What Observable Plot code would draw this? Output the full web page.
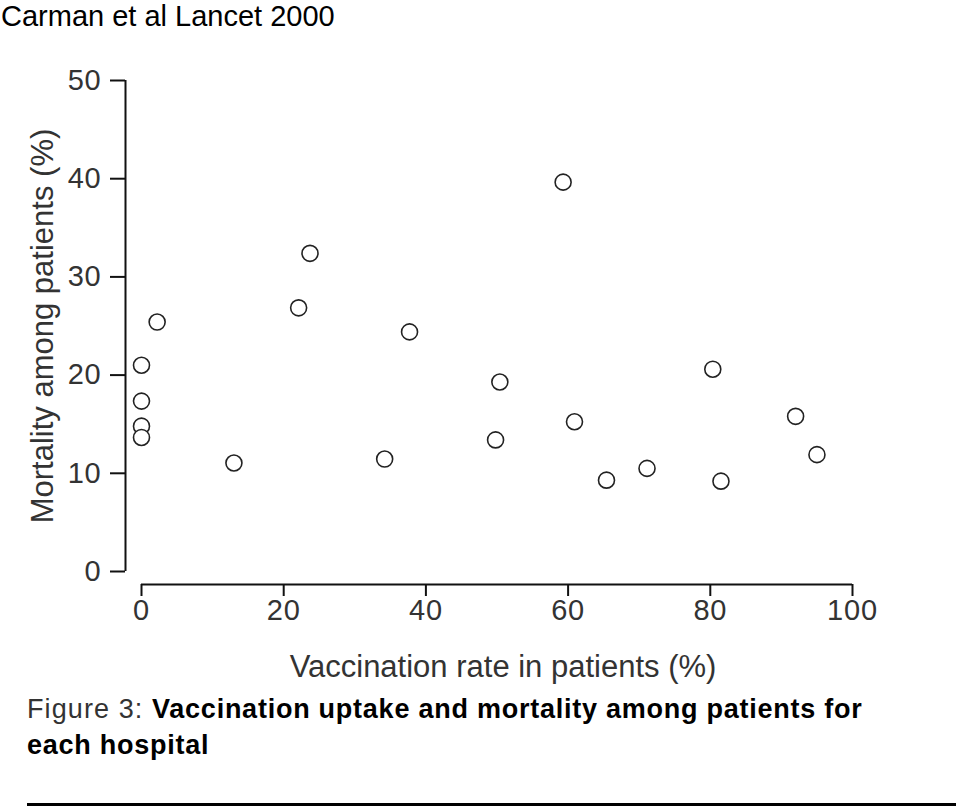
<!DOCTYPE html>
<html>
<head>
<meta charset="utf-8">
<script src="https://cdn.jsdelivr.net/npm/d3@7"></script>
<script src="https://cdn.jsdelivr.net/npm/@observablehq/plot@0.6"></script>
<style>
  html, body { margin: 0; padding: 0; background: #fff; }
  body { width: 960px; height: 808px; position: relative; overflow: hidden; font-family: "Liberation Sans", Arial, sans-serif; }
  #title { position: absolute; left: 1px; top: 2px; font-size: 29px; line-height: 29px; color: #000; white-space: nowrap; }
  #chart { position: absolute; left: 0; top: 0; }
  #caption { position: absolute; left: 27px; top: 691px; font-size: 27px; line-height: 36px; white-space: nowrap; }
  #caption .fig { color: #333; letter-spacing: 1.1px; }
  #caption b { color: #000; letter-spacing: 0.75px; }
  #rule { position: absolute; left: 27px; top: 803px; width: 929px; height: 3px; background: #000; }
</style>
</head>
<body>
<div id="chart"></div>
<div id="title">Carman et al Lancet 2000</div>
<div id="caption"><span class="fig">Figure 3: </span><b>Vaccination uptake and mortality among patients for<br>each hospital</b></div>
<div id="rule"></div>
<script>
// Data
const vaccination = [0, 0, 0, 0, 2.2, 13.0, 22.1, 23.7, 34.2, 37.7, 49.8, 50.4, 59.3, 60.9, 65.4, 71.1, 80.35, 81.5, 92.0, 95.0];
const mortality   = [21.0, 17.35, 14.8, 13.65, 25.4, 11.05, 26.85, 32.4, 11.45, 24.4, 13.4, 19.3, 39.65, 15.25, 9.3, 10.5, 20.6, 9.2, 15.8, 11.9];
const xTicks = [0, 20, 40, 60, 80, 100];
const yTicks = [0, 10, 20, 30, 40, 50];
const xLabel = "Vaccination rate in patients (%)";
const yLabel = "Mortality among patients (%)";

const hospitals = vaccination.map((v, i) => ({vaccination: v, mortality: mortality[i]}));

const chart = Plot.plot({
  width: 960,
  height: 700,
  marginLeft: 141,
  marginRight: 108,
  marginTop: 80,
  marginBottom: 129,
  style: {fontFamily: "'Liberation Sans', Arial, sans-serif", background: "transparent", color: "#333"},
  x: {domain: [0, 100], ticks: xTicks},
  y: {domain: [0, 50], ticks: yTicks},
  marks: [
    Plot.ruleX([0], {y1: 0, y2: 50, dx: -16, stroke: "#111", strokeWidth: 2}),
    Plot.ruleY([0], {x1: 0, x2: 100, dy: 13, stroke: "#111", strokeWidth: 2}),
    Plot.axisY({ticks: yTicks, tickSize: 15, tickPadding: 9, dx: -16, fontSize: 29, label: null, stroke: "#111", strokeWidth: 2, fill: "#333"}),
    Plot.axisX({ticks: xTicks, tickSize: 12, tickPadding: 3, dy: 13, fontSize: 29, label: null, stroke: "#111", strokeWidth: 2, fill: "#333"}),
    Plot.text([xLabel], {text: d => d, frameAnchor: "bottom", textAnchor: "middle", lineAnchor: "bottom", dy: 105, dx: 6, fontSize: 31, fill: "#333"}),
    Plot.text([yLabel], {text: d => d, frameAnchor: "left", textAnchor: "middle", lineAnchor: "middle", rotate: -90, dx: -98, fontSize: 31, fill: "#333"}),
    Plot.dot(hospitals, {x: "vaccination", y: "mortality", r: 8, stroke: "#222", strokeWidth: 1.6, fill: "white"})
  ]
});
document.getElementById("chart").appendChild(chart);
d3.select(chart).selectAll("text")
  .filter(function() { return /^\d+$/.test(this.textContent.trim()); })
  .style("letter-spacing", "0.8px");
</script>
</body>
</html>
